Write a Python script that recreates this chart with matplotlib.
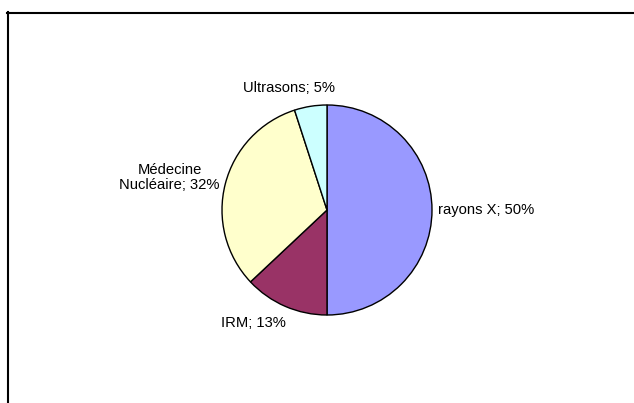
import matplotlib.pyplot as plt
from matplotlib.lines import Line2D

plt.rcParams['font.family'] = ['Liberation Sans', 'DejaVu Sans']

categories = ["rayons X", "IRM", "Médecine\nNucléaire", "Ultrasons"]
shares = [50, 13, 32, 5]
colors = ["#9999FF", "#993366", "#FFFFCC", "#CCFFFF"]
# label anchor (x, y, ha) in pie-radius units
label_pos = [(1.06, 0.0, "left"), (-0.70, -1.08, "center"),
             (-1.02, 0.31, "right"), (-0.36, 1.16, "center")]

W, H = 634, 403
fig = plt.figure(figsize=(W / 100, H / 100), dpi=100)
fig.patch.set_facecolor("white")

cx, cy, r = 327, 210, 105
ax = fig.add_axes([(cx - r) / W, (H - cy - r) / H, 2 * r / W, 2 * r / H])
ax.pie(shares, colors=colors, startangle=90, counterclock=False,
       wedgeprops=dict(edgecolor="black", linewidth=1.0))
ax.set_xlim(-1, 1)
ax.set_ylim(-1, 1)
ax.set_aspect("equal")
ax.axis("off")

for cat, val, (x, y, ha) in zip(categories, shares, label_pos):
    ax.text(x, y, f"{cat}; {val}%", ha=ha, va="center", fontsize=10.6,
            color="black", multialignment="center", linespacing=1.15)

# chart frame (only top and left edges visible)
fig.add_artist(Line2D([7 / W, 1], [1 - 12.5 / H, 1 - 12.5 / H], color="black", lw=1.5))
fig.add_artist(Line2D([7.5 / W, 7.5 / W], [0, 1 - 12 / H], color="black", lw=1.5))

fig.savefig("out.png", dpi=100)
